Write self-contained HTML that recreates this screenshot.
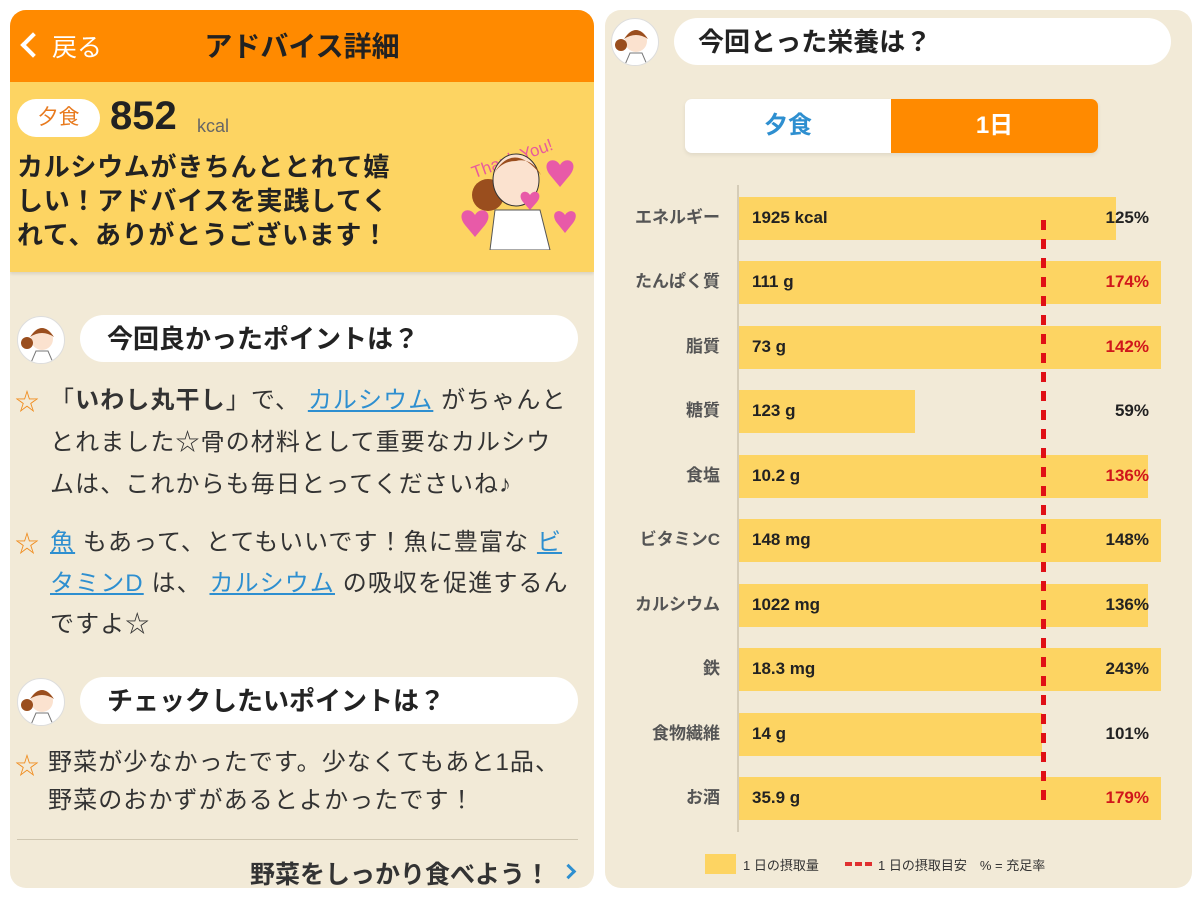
<!DOCTYPE html>
<html><head><meta charset="utf-8"><style>
*{margin:0;padding:0;box-sizing:border-box}
body{width:1200px;height:900px;background:#fff;position:relative;overflow:hidden;font-family:"Liberation Sans","Noto Sans CJK JP",sans-serif;color:#333}
.a{position:absolute}
.lp{left:10px;top:10px;width:584px;height:878px;background:#F2EAD7;border-radius:16px;overflow:hidden}
.rp{left:605px;top:10px;width:587px;height:878px;background:#F2EAD7;border-radius:16px;overflow:hidden}
.bub{background:#fff;border-radius:24px}
.bt{font-size:26px;font-weight:bold;color:#222;white-space:nowrap;line-height:30px}
.av{width:48px;height:48px;border-radius:50%;background:#fff;overflow:hidden}
.p{font-size:24px;color:#333;white-space:nowrap;letter-spacing:1.1px}
.lk{color:#2E8FD0;text-decoration:underline}
.star{color:#F08C1E;font-size:24px}
.lbl{font-size:17px;font-weight:bold;color:#555;text-align:right;width:120px;white-space:nowrap;line-height:20px}
.bar{background:#FDD462;height:43px;left:739px}
.val{font-size:17px;font-weight:bold;color:#222;left:752px}
.pc{font-size:17px;font-weight:bold;color:#222;right:51px;text-align:right}
.red{color:#D0161B}
</style></head><body>
<div class="a lp">
 <div class="a" style="left:0;top:0;width:584px;height:72px;background:#FF8A00"></div>
 <div class="a" style="left:14px;top:26px;width:18px;height:18px;border-left:4px solid #fff;border-bottom:4px solid #fff;transform:rotate(45deg)"></div>
 <div class="a" style="left:42px;top:18px;font-size:25px;color:#fff">戻る</div>
 <div class="a" style="left:0;width:584px;top:15px;text-align:center;font-size:28px;font-weight:bold;color:#222;padding-left:0">アドバイス詳細</div>
 <div class="a" style="left:0;top:72px;width:584px;height:190px;background:#FDD462;box-shadow:0 2px 3px rgba(0,0,0,.1)"></div>
 <div class="a" style="left:7px;top:89px;width:83px;height:38px;background:#fff;border-radius:19px;text-align:center;font-size:21px;line-height:38px;color:#E87A1E">夕食</div>
 <div class="a" style="left:100px;top:84px;font-size:40px;font-weight:bold;color:#222">852</div>
 <div class="a" style="left:187px;top:106px;font-size:18px;color:#666">kcal</div>
 <div class="a" style="left:7px;top:140px;font-size:26px;font-weight:bold;color:#222;line-height:34px;white-space:nowrap;letter-spacing:0.7px">カルシウムがきちんととれて嬉<br>しい！アドバイスを実践してく<br>れて、ありがとうございます！</div>
 <svg class="a" style="left:440px;top:110px" width="135" height="130">
  <text x="20" y="45" font-size="17" fill="#E85A9C" transform="rotate(-20 60 40)" font-family="Liberation Sans">Thank You!</text>
  <path d="M110 45 c-6-10-20-3-10 10 l10 12 l10-12 c10-13-4-20-10-10z" fill="#E85AA8"/>
  <path d="M25 95 c-6-10-20-3-10 10 l10 12 l10-12 c10-13-4-20-10-10z" fill="#E85AA8"/>
  <path d="M115 95 c-5-8-16-3-8 8 l8 10 l8-10 c8-11-3-16-8-8z" fill="#E85AA8"/>
  <circle cx="38" cy="75" r="16" fill="#9A4E1E"/>
  <ellipse cx="66" cy="60" rx="23" ry="26" fill="#FBE2CF" stroke="#333"/>
  <path d="M43 55 q20-35 48 0 q-10-18-25-14 q-15 0-23 14z" fill="#9A4E1E"/>
  <path d="M45 90 l45 0 l10 40 l-60 0z" fill="#fff" stroke="#555"/>
  <path d="M80 75 c-4-7-14-2-7 7 l7 8 l7-8 c7-9-3-14-7-7z" fill="#E85AA8"/>
 </svg>
 <div class="a av" style="left:7px;top:306px;border:1px solid #ddd"><svg width="48" height="48"><circle cx="24" cy="22" r="11" fill="#FBE2CF"/><path d="M12 20 q12-18 24 0 q-12-8-24 0z" fill="#9A4E1E"/><circle cx="9" cy="26" r="6" fill="#9A4E1E"/><path d="M12 48 l6-14 h12 l6 14z" fill="#fff" stroke="#777"/></svg></div>
 <div class="a bub" style="left:70px;top:305px;width:498px;height:47px"></div>
 <div class="a bt" style="left:97px;top:314px">今回良かったポイントは？</div>
 <div class="a star" style="left:5px;top:372px">☆</div>
 <div class="a p" style="left:40px;top:370px;line-height:42px">「<b>いわし丸干し</b>」で、 <span class="lk">カルシウム</span> がちゃんと<br>とれました☆骨の材料として重要なカルシウ<br>ムは、これからも毎日とってくださいね♪</div>
 <div class="a star" style="left:5px;top:514px">☆</div>
 <div class="a p" style="left:40px;top:512px;line-height:41px"><span class="lk">魚</span> もあって、とてもいいです！魚に豊富な <span class="lk">ビ</span><br><span class="lk">タミンD</span> は、 <span class="lk">カルシウム</span> の吸収を促進するん<br>ですよ☆</div>
 <div class="a av" style="left:7px;top:668px;border:1px solid #ddd"><svg width="48" height="48"><circle cx="24" cy="22" r="11" fill="#FBE2CF"/><path d="M12 20 q12-18 24 0 q-12-8-24 0z" fill="#9A4E1E"/><circle cx="9" cy="26" r="6" fill="#9A4E1E"/><path d="M12 48 l6-14 h12 l6 14z" fill="#fff" stroke="#777"/></svg></div>
 <div class="a bub" style="left:70px;top:667px;width:498px;height:47px"></div>
 <div class="a bt" style="left:97px;top:676px">チェックしたいポイントは？</div>
 <div class="a star" style="left:5px;top:736px">☆</div>
 <div class="a p" style="left:38px;top:734px;line-height:38px">野菜が少なかったです。少なくてもあと1品、<br>野菜のおかずがあるとよかったです！</div>
 <div class="a" style="left:7px;top:829px;width:561px;height:1px;background:#CFC6B0"></div>
 <div class="a" style="right:44px;top:845px;font-size:25px;font-weight:bold;color:#333">野菜をしっかり食べよう！</div>
 <div class="a" style="left:553px;top:856px;width:11px;height:11px;border-right:3px solid #2E8FD0;border-top:3px solid #2E8FD0;transform:rotate(45deg)"></div>
</div>
<div class="a rp">
 <div class="a av" style="left:6px;top:8px;border:1px solid #ddd"><svg width="48" height="48"><circle cx="24" cy="22" r="11" fill="#FBE2CF"/><path d="M12 20 q12-18 24 0 q-12-8-24 0z" fill="#9A4E1E"/><circle cx="9" cy="26" r="6" fill="#9A4E1E"/><path d="M12 48 l6-14 h12 l6 14z" fill="#fff" stroke="#777"/></svg></div>
 <div class="a bub" style="left:69px;top:8px;width:497px;height:47px"></div>
 <div class="a bt" style="left:93px;top:17px">今回とった栄養は？</div>
 <div class="a" style="left:80px;top:89px;width:413px;height:54px;background:#fff;border-radius:7px;box-shadow:0 2px 4px rgba(0,0,0,.08);overflow:hidden">
  <div class="a" style="left:0;top:0;width:206px;height:54px;text-align:center;line-height:54px;font-size:24px;font-weight:bold;color:#2E8FD0">夕食</div>
  <div class="a" style="left:206px;top:0;width:207px;height:54px;background:#FF8A00;text-align:center;line-height:54px;font-size:24px;font-weight:bold;color:#fff">1日</div>
 </div>
</div>
<div class="a" style="left:737px;top:185px;width:2px;height:647px;background:#D5CCB8"></div>
<div class="a bar" style="top:197px;width:377px"></div>
<div class="a bar" style="top:261px;width:422px"></div>
<div class="a bar" style="top:326px;width:422px"></div>
<div class="a bar" style="top:390px;width:176px"></div>
<div class="a bar" style="top:455px;width:409px"></div>
<div class="a bar" style="top:519px;width:422px"></div>
<div class="a bar" style="top:584px;width:409px"></div>
<div class="a bar" style="top:648px;width:422px"></div>
<div class="a bar" style="top:713px;width:303px"></div>
<div class="a bar" style="top:777px;width:422px"></div>
<div class="a" style="left:1041px;top:220px;width:5px;height:580px;background:repeating-linear-gradient(#E01015 0 10px,transparent 10px 19px)"></div>
<div class="a lbl" style="left:600px;top:208px">エネルギー</div><div class="a val" style="top:208px">1925 kcal</div><div class="a pc" style="top:208px">125%</div>
<div class="a lbl" style="left:600px;top:272px">たんぱく質</div><div class="a val" style="top:272px">111 g</div><div class="a pc red" style="top:272px">174%</div>
<div class="a lbl" style="left:600px;top:337px">脂質</div><div class="a val" style="top:337px">73 g</div><div class="a pc red" style="top:337px">142%</div>
<div class="a lbl" style="left:600px;top:401px">糖質</div><div class="a val" style="top:401px">123 g</div><div class="a pc" style="top:401px">59%</div>
<div class="a lbl" style="left:600px;top:466px">食塩</div><div class="a val" style="top:466px">10.2 g</div><div class="a pc red" style="top:466px">136%</div>
<div class="a lbl" style="left:600px;top:530px">ビタミンC</div><div class="a val" style="top:530px">148 mg</div><div class="a pc" style="top:530px">148%</div>
<div class="a lbl" style="left:600px;top:595px">カルシウム</div><div class="a val" style="top:595px">1022 mg</div><div class="a pc" style="top:595px">136%</div>
<div class="a lbl" style="left:600px;top:659px">鉄</div><div class="a val" style="top:659px">18.3 mg</div><div class="a pc" style="top:659px">243%</div>
<div class="a lbl" style="left:600px;top:724px">食物繊維</div><div class="a val" style="top:724px">14 g</div><div class="a pc" style="top:724px">101%</div>
<div class="a lbl" style="left:600px;top:788px">お酒</div><div class="a val" style="top:788px">35.9 g</div><div class="a pc red" style="top:788px">179%</div>
<div class="a" style="left:705px;top:854px;width:31px;height:20px;background:#FDD462"></div>
<div class="a" style="left:743px;top:855px;font-size:13px;color:#333">1 日の摂取量</div>
<div class="a" style="left:845px;top:862px;width:27px;height:4px;background:repeating-linear-gradient(90deg,#E03030 0 7px,transparent 7px 10px)"></div>
<div class="a" style="left:878px;top:855px;font-size:13px;color:#333">1 日の摂取目安　% = 充足率</div>
</body></html>
